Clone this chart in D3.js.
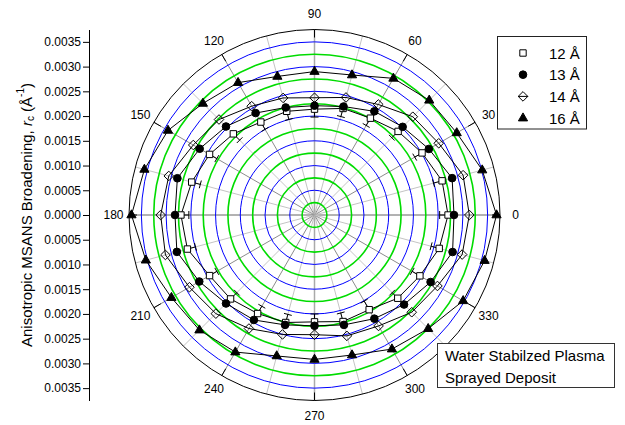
<!DOCTYPE html>
<html>
<head>
<meta charset="utf-8">
<script src="https://cdn.jsdelivr.net/npm/d3@7"></script>
<style>
  body { margin: 0; background: #fff; }
  text { font-family: "Liberation Sans", Arial, sans-serif; fill: #000; }
</style>
</head>
<body>
<script>
// angles of the measured points (deg)
const angles = [0, 15, 30, 45, 60, 75, 90, 105, 120, 135, 150, 165,
                180, 195, 210, 225, 240, 255, 270, 285, 300, 315, 330, 345];

// broadening r_c (1/A) for each wavelength
const r12 = [0.00270, 0.00267, 0.00251, 0.00239, 0.00226, 0.00223, 0.00214, 0.00217, 0.00217, 0.00232, 0.00245, 0.00257,
             0.00270, 0.00266, 0.00245, 0.00240, 0.00230, 0.00225, 0.00216, 0.00223, 0.00221, 0.00238, 0.00246, 0.00261];
const err12 = [0.00017, 0.00018, 0.00017, 0.00018, 0.00017, 0.00017, 0.00016, 0.00017, 0.00017, 0.00018, 0.00017, 0.00018,
               0.00016, 0.00017, 0.00017, 0.00018, 0.00017, 0.00017, 0.00016, 0.00018, 0.00020, 0.00016, 0.00018, 0.00017];
const r13 = [0.00282, 0.00288, 0.00267, 0.00252, 0.00242, 0.00227, 0.00221, 0.00225, 0.00238, 0.00253, 0.00268, 0.00287,
             0.00282, 0.00288, 0.00269, 0.00253, 0.00245, 0.00230, 0.00224, 0.00230, 0.00242, 0.00256, 0.00271, 0.00289];
const r14 = [0.00313, 0.00311, 0.00290, 0.00281, 0.00258, 0.00246, 0.00237, 0.00245, 0.00254, 0.00273, 0.00283, 0.00305,
             0.00311, 0.00312, 0.00292, 0.00282, 0.00265, 0.00250, 0.00242, 0.00253, 0.00259, 0.00278, 0.00287, 0.00309];
const r16 = [0.00368, 0.00351, 0.00332, 0.00328, 0.00319, 0.00293, 0.00290, 0.00290, 0.00309, 0.00319, 0.00342, 0.00356,
             0.00370, 0.00353, 0.00334, 0.00329, 0.00320, 0.00295, 0.00292, 0.00293, 0.00313, 0.00325, 0.00347, 0.00356];

const seriesNames = ["12 Å", "13 Å", "14 Å", "16 Å"];
const angleTickLabels = [0, 30, 60, 90, 120, 150, 180, 210, 240, 270, 300, 330];
const radialGrid = [0.00025, 0.0005, 0.00075, 0.001, 0.00125, 0.0015, 0.00175, 0.002,
                    0.00225, 0.0025, 0.00275, 0.003, 0.00325, 0.0035];
const yTickLabels = [-0.0035, -0.003, -0.0025, -0.002, -0.0015, -0.001, -0.0005, 0,
                     0.0005, 0.001, 0.0015, 0.002, 0.0025, 0.003, 0.0035];
const noteLines = ["Water Stabilzed Plasma", "Sprayed Deposit"];

const W = 625, H = 425;
const cx = 314.5, cy = 215, R = 185.5, rMax = 0.00375;

const svg = d3.select("body").append("svg")
    .attr("width", W).attr("height", H);

// scales
const r = d3.scaleLinear().domain([0, rMax]).range([0, R]);
const ang = d3.scaleLinear().domain([0, 360]).range([0, 2 * Math.PI]);
const y = d3.scaleLinear().domain([-rMax, rMax]).range([cy + R, cy - R]);

function px(a, v) { return cx + r(v) * Math.cos(ang(a)); }
function py(a, v) { return cy - r(v) * Math.sin(ang(a)); }

// spokes
const spokes = d3.range(0, 360, 15);
svg.append("g").selectAll("line")
    .data(spokes).enter().append("line")
    .attr("x1", cx).attr("y1", cy)
    .attr("x2", a => px(a, rMax)).attr("y2", a => py(a, rMax))
    .attr("stroke", a => a % 180 === 0 ? "#666" : a % 90 === 0 ? "#aaa" : a % 30 === 0 ? "#8c8c8c" : "#c4c4c4")
    .attr("stroke-width", a => a % 180 !== 0 && a % 90 === 0 ? 1.5 : 1);

// radial grid circles
svg.append("g").selectAll("circle")
    .data(radialGrid).enter().append("circle")
    .attr("cx", cx).attr("cy", cy)
    .attr("r", d => r(d))
    .attr("fill", "none")
    .attr("stroke", (d, i) => i % 2 === 0 ? "#00dc00" : "#0000ff")
    .attr("stroke-width", (d, i) => i % 2 === 0 ? 1.6 : 1);

// outer circle and major angular ticks
svg.append("circle")
    .attr("cx", cx).attr("cy", cy).attr("r", r(rMax))
    .attr("fill", "none").attr("stroke", "#000").attr("stroke-width", 1);

svg.append("g").selectAll("line")
    .data(angleTickLabels).enter().append("line")
    .attr("x1", a => cx + (R - 8) * Math.cos(ang(a)))
    .attr("y1", a => cy - (R - 8) * Math.sin(ang(a)))
    .attr("x2", a => px(a, rMax)).attr("y2", a => py(a, rMax))
    .attr("stroke", "#000");

svg.append("g").selectAll("text")
    .data(angleTickLabels).enter().append("text")
    .attr("x", a => cx + (R + 15.5) * Math.cos(ang(a)))
    .attr("y", a => cy - (R + 15.5) * Math.sin(ang(a)))
    .attr("text-anchor", "middle")
    .attr("dominant-baseline", "central")
    .style("font-size", "12px")
    .text(a => a);

// series
const series = [
  { vals: r12, sym: "square" },
  { vals: r13, sym: "circle" },
  { vals: r14, sym: "diamond" },
  { vals: r16, sym: "triangle" }
];

const line = d3.line().curve(d3.curveLinearClosed);
series.forEach(s => {
  svg.append("path")
      .attr("d", line(angles.map((a, i) => [px(a, s.vals[i]), py(a, s.vals[i])])))
      .attr("fill", "none").attr("stroke", "#000").attr("stroke-width", 1);
});

// error bars (12 A, inward)
const eb = svg.append("g").attr("stroke", "#000").attr("stroke-width", 1);
angles.forEach((a, i) => {
  const v0 = r12[i], v1 = r12[i] - err12[i];
  const t = ang(a), nx = Math.sin(t) * 4, ny = Math.cos(t) * 4;
  eb.append("line")
      .attr("x1", px(a, v0)).attr("y1", py(a, v0))
      .attr("x2", px(a, v1)).attr("y2", py(a, v1));
  eb.append("line")
      .attr("x1", px(a, v1) - nx).attr("y1", py(a, v1) - ny)
      .attr("x2", px(a, v1) + nx).attr("y2", py(a, v1) + ny);
});

function symPath(sym) {
  if (sym === "square") return "M-3.2,-3.2H3.2V3.2H-3.2Z";
  if (sym === "circle") return d3.symbol(d3.symbolCircle, 46)();
  if (sym === "diamond") return "M0,-4.8L4.8,0L0,4.8L-4.8,0Z";
  return "M0,-5.2L4.6,2.8L-4.6,2.8Z";
}
function drawSym(g, sym) {
  g.append("path").attr("d", symPath(sym))
      .attr("fill", sym === "square" ? "#fff" : sym === "diamond" ? "none" : "#000")
      .attr("stroke", "#000").attr("stroke-width", 1);
}

series.forEach(s => {
  angles.forEach((a, i) => {
    const g = svg.append("g")
        .attr("transform", `translate(${px(a, s.vals[i])},${py(a, s.vals[i])})`);
    drawSym(g, s.sym);
  });
});

// left axis
const yAxisG = svg.append("g").attr("transform", "translate(89,0)");
yAxisG.call(d3.axisLeft(y).tickValues(d3.range(-15, 16).map(k => k * 0.00025))
    .tickSize(4).tickSizeOuter(0).tickFormat(""));
yAxisG.call(d3.axisLeft(y).tickValues(yTickLabels).tickSize(6).tickSizeOuter(0)
    .tickFormat(d => d3.format(".4f")(Math.abs(d))));
yAxisG.selectAll("text").style("font-size", "12px")
    .style("font-family", "'Liberation Sans', Arial, sans-serif").attr("x", -8);
yAxisG.selectAll("line, path").attr("stroke", "#000");

// axis title
const title = svg.append("text")
    .attr("transform", `translate(26,${cy}) rotate(-90)`)
    .attr("text-anchor", "middle")
    .attr("dominant-baseline", "central")
    .style("font-size", "15px");
title.append("tspan").text("Anisotropic MSANS Broadening, ");
title.append("tspan").style("font-style", "italic").text("r");
title.append("tspan").attr("dy", 4).style("font-size", "10px").text("c");
title.append("tspan").attr("dy", -4).text(" (Å");
title.append("tspan").attr("dy", -6).style("font-size", "10px").text("-1");
title.append("tspan").attr("dy", 6).text(")");

// legend
const leg = svg.append("g");
leg.append("rect").attr("x", 497.5).attr("y", 36.5).attr("width", 89).attr("height", 92.5)
    .attr("fill", "#fff").attr("stroke", "#222");
series.forEach((s, i) => {
  const yy = 53 + i * 21.7;
  const g = leg.append("g").attr("transform", `translate(523,${yy})`);
  if (s.sym === "diamond") g.append("line").attr("x1", -5).attr("x2", 5).attr("stroke", "#000");
  drawSym(g, s.sym);
  leg.append("text").attr("x", 549).attr("y", yy).attr("dominant-baseline", "central")
      .style("font-size", "15px").text(seriesNames[i]);
});

// note box
const note = svg.append("g");
note.append("rect").attr("x", 437.5).attr("y", 343.5).attr("width", 177).attr("height", 44)
    .attr("fill", "#fff").attr("stroke", "#333");
note.selectAll("text").data(noteLines).enter().append("text")
    .attr("x", 445).attr("y", (d, i) => 355.5 + i * 21.7)
    .attr("dominant-baseline", "central")
    .style("font-size", "15px").text(d => d);
</script>
</body>
</html>
